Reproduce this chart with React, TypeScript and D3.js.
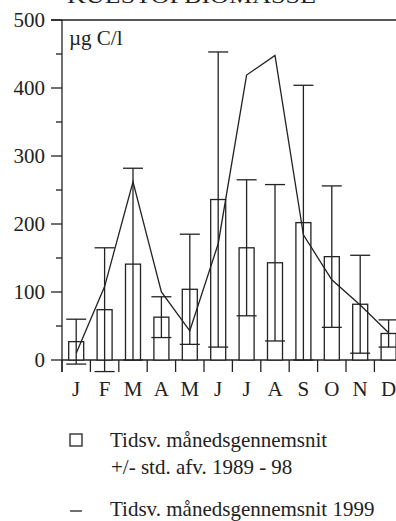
import React from "react";
import * as d3 from "d3";

const months = ["J", "F", "M", "A", "M", "J", "J", "A", "S", "O", "N", "D"];
const meanValues = [27, 74, 141, 63, 104, 236, 165, 143, 202, 152, 82, 39];
const sdValues = [33, 91, 141, 30, 81, 217, 100, 115, 202, 104, 72, 20];
const values1999 = [10, 108, 262, 100, 43, 171, 419, 448, 184, 118, 81, 40];
const yTicks = [0, 100, 200, 300, 400, 500];
const yMinorTicks = [50, 150, 250, 350, 450];

export default function App() {
  const W = 396, H = 521;
  const x0 = 62, step = 28.4;
  const idx = months.map((_, i) => i);
  const x = d3.scaleBand<number>().domain(idx).range([x0, x0 + step * 12]).paddingInner(0).paddingOuter(0);
  const y = d3.scaleLinear().domain([0, 500]).range([360, 20]);
  const cx = (i: number) => (x(i) as number) + x.bandwidth() / 2;
  const barW = 15;
  const capW = 20;
  const stroke = "#222";
  const sw = 1.3;
  const ts: React.CSSProperties = { fontFamily: "Liberation Serif, Times New Roman, Times, serif" };
  const line = d3.line<number>().x((_, i) => cx(i)).y((d) => y(d));

  return (
    <svg width={W} height={H} style={{ position: "absolute", left: 0, top: 0 }}>
      <rect width={W} height={H} fill="white" />
      <text style={ts} x={67} y={3} fontSize={22} fill={stroke} textLength={249} lengthAdjust="spacingAndGlyphs">KULSTOFBIOMASSE</text>
      {/* frame top */}
      <line x1={51} x2={W + 10} y1={y(500)} y2={y(500)} stroke={stroke} strokeWidth={sw} />
      {/* y axis */}
      <line x1={x0} x2={x0} y1={y(500)} y2={372} stroke={stroke} strokeWidth={sw} />
      {yTicks.map((t) => (
        <g key={t}>
          <line x1={51} x2={x0} y1={y(t)} y2={y(t)} stroke={stroke} strokeWidth={sw} />
          <text style={ts} x={45} y={y(t)} dy="0.33em" textAnchor="end" fontSize={21} fill={stroke}>{t}</text>
        </g>
      ))}
      {yMinorTicks.map((t) => (
        <line key={t} x1={56} x2={x0} y1={y(t)} y2={y(t)} stroke={stroke} strokeWidth={sw} />
      ))}
      {/* x axis */}
      <line x1={x0} x2={x0 + step * 12} y1={y(0)} y2={y(0)} stroke={stroke} strokeWidth={sw} />
      {d3.range(13).map((k) => (
        <line key={k} x1={x0 + k * step} x2={x0 + k * step} y1={y(0)} y2={372} stroke={stroke} strokeWidth={sw} />
      ))}
      {months.map((m, i) => (
        <text style={ts} key={i} x={cx(i)} y={396} textAnchor="middle" fontSize={21} fill={stroke}>{m}</text>
      ))}
      <text style={ts} x={69} y={45} fontSize={21} fill={stroke}>µg C/l</text>
      {/* bars */}
      {meanValues.map((v, i) => (
        <rect key={i} x={cx(i) - barW / 2} y={y(v)} width={barW} height={y(0) - y(v)} fill="white" stroke={stroke} strokeWidth={sw} />
      ))}
      {meanValues.map((v, i) => {
        const lo = v - sdValues[i];
        const hi = v + sdValues[i];
        return (
          <g key={i}>
            <line x1={cx(i)} x2={cx(i)} y1={y(lo)} y2={y(hi)} stroke={stroke} strokeWidth={sw} />
            <line x1={cx(i) - capW / 2} x2={cx(i) + capW / 2} y1={y(lo)} y2={y(lo)} stroke={stroke} strokeWidth={sw} />
            <line x1={cx(i) - capW / 2} x2={cx(i) + capW / 2} y1={y(hi)} y2={y(hi)} stroke={stroke} strokeWidth={sw} />
          </g>
        );
      })}
      <path d={line(values1999) || ""} fill="none" stroke={stroke} strokeWidth={sw} />
      {/* legend */}
      <rect x={70} y={434} width={12} height={12} fill="white" stroke={stroke} strokeWidth={sw} />
      <text style={ts} x={110} y={447} fontSize={21} fill={stroke}>Tidsv. månedsgennemsnit</text>
      <text style={ts} x={111} y={474} fontSize={21} fill={stroke}>+/- std. afv. 1989 - 98</text>
      <line x1={70} x2={82} y1={511} y2={511} stroke={stroke} strokeWidth={sw} />
      <text style={ts} x={110} y={516} fontSize={21} fill={stroke}>Tidsv. månedsgennemsnit 1999</text>
    </svg>
  );
}
